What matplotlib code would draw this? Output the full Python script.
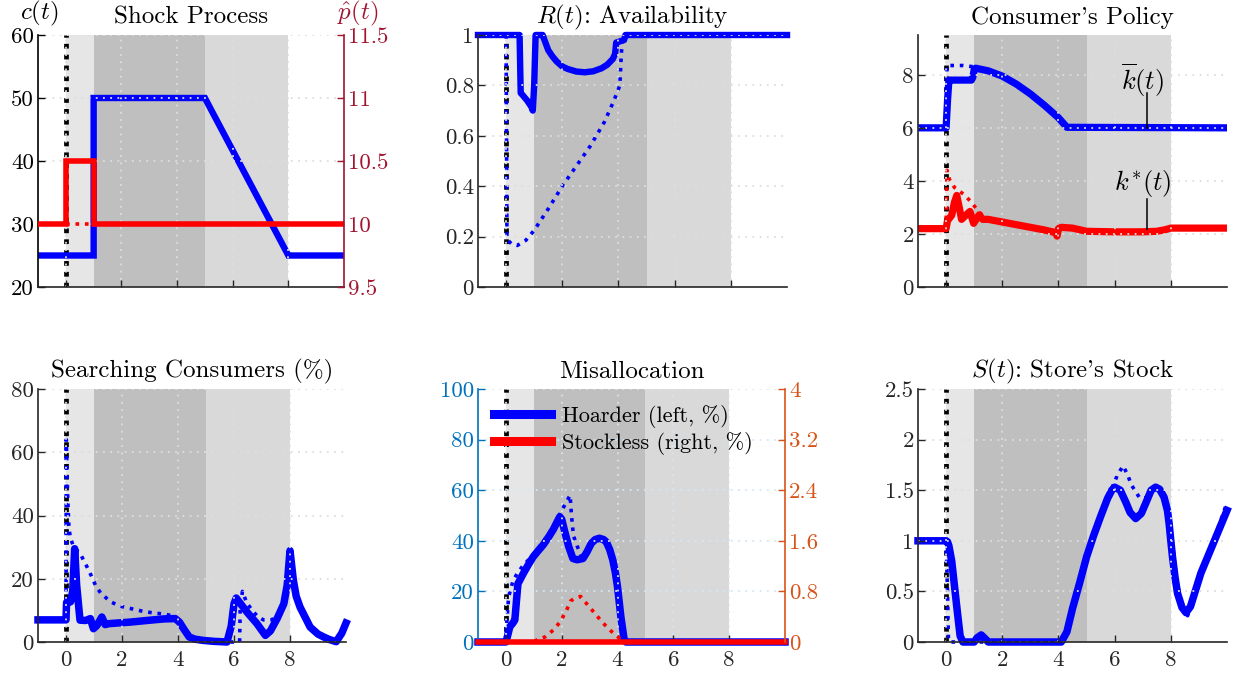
import matplotlib
matplotlib.use('Agg')
import matplotlib.pyplot as plt
from matplotlib.lines import Line2D

plt.rcParams.update({
    'font.family': 'serif', 'font.serif': ['cmr10'], 'mathtext.fontset': 'cm',
    'axes.formatter.use_mathtext': True, 'axes.unicode_minus': False,
})

BLUE = '#0000ff'
RED = '#ff0000'
CRIMSON = '#A2142F'
MBLUE = '#0072BD'
ORANGE = '#D95319'

# ---------------- data ----------------
# Panel 1: shock process
t_c = [-1, 1, 1, 5, 8, 10]
c_val = [25, 25, 50, 50, 25, 25]
t_p = [-1, 0, 0, 1, 1, 10]
p_val = [10, 10, 10.5, 10.5, 10, 10]
t_p_alt = [-1, 10]
p_alt = [10, 10]

# Panel 2: availability
t_R = [-1, 0.48, 0.52, 0.6, 0.75, 0.9, 0.95, 1.0, 1.05, 1.3, 1.4, 1.5, 1.65, 1.8, 2.0,
       2.2, 2.5, 2.8, 3.1, 3.4, 3.6, 3.8, 3.88, 3.92, 4.2, 4.25, 10]
R_val = [1, 1, 0.77, 0.76, 0.74, 0.715, 0.70, 0.80, 1.0, 1.0, 0.97, 0.94, 0.915, 0.895, 0.875,
         0.865, 0.855, 0.852, 0.856, 0.868, 0.882, 0.905, 0.925, 0.97, 0.98, 1.0, 1.0]
t_R_alt = [-1, 0, 0.03, 0.2, 0.4, 0.7, 1.0, 1.5, 2.0, 2.5, 3.0, 3.5, 3.84, 4.05, 4.1, 4.15, 10]
R_alt = [1, 1, 0.19, 0.17, 0.165, 0.185, 0.225, 0.31, 0.40, 0.48, 0.56, 0.655, 0.74, 0.80, 0.92, 1.0, 1.0]

# Panel 3: consumer's policy
t_kbar = [-1, 0.0, 0.05, 0.1, 0.15, 0.9, 0.95, 1.0, 1.05, 1.5, 2.0, 2.5, 3.0, 3.5, 4.0, 4.3, 10]
kbar = [6, 6, 7.0, 7.8, 7.8, 7.8, 7.9, 8.2, 8.25, 8.15, 7.95, 7.65, 7.28, 6.85, 6.38, 6.02, 6.0]
t_kbar_alt = [-1, 0, 0.03, 0.6, 1.0, 1.05, 1.5, 2.0, 2.5, 3.0, 3.5, 4.0, 4.3, 10]
kbar_alt = [6, 6, 8.35, 8.35, 8.3, 8.25, 8.15, 7.95, 7.65, 7.28, 6.85, 6.38, 6.02, 6]
t_kstar = [-1, 0, 0.05, 0.2, 0.3, 0.38, 0.45, 0.55, 0.7, 0.85, 0.98, 1.1, 1.18, 1.3, 1.5, 2.0,
           2.5, 3.0, 3.5, 3.9, 3.95, 4.0, 4.1, 4.5, 5.0, 6.0, 7.0, 7.5, 7.8, 8.0, 10]
kstar = [2.2, 2.2, 2.5, 2.7, 3.2, 3.45, 3.1, 2.55, 2.7, 2.85, 2.4, 2.6, 2.72, 2.55, 2.55, 2.45,
         2.35, 2.25, 2.15, 2.05, 1.92, 2.2, 2.25, 2.22, 2.1, 2.08, 2.08, 2.1, 2.16, 2.22, 2.22]
t_kstar_alt = [-1, 0, 0.03, 0.12, 0.3, 0.62, 0.9, 1.15, 1.4, 1.6, 2.0, 2.5, 3.0, 3.5, 3.9, 4.0,
               4.5, 5.0, 7.5, 8.0, 10]
kstar_alt = [2.2, 2.2, 4.4, 4.05, 3.75, 3.5, 3.2, 2.85, 2.6, 2.55, 2.45, 2.35, 2.25, 2.15, 2.05, 2.2,
             2.22, 2.1, 2.1, 2.22, 2.22]

# Panel 4: searching consumers (%)
t_srch = [-1, 0, 0.02, 0.16, 0.24, 0.31, 0.38, 0.5, 0.7, 0.87, 0.98, 1.1, 1.28, 1.4, 1.52, 2.3,
          3.0, 3.5, 3.9, 4.05, 4.2, 4.4, 4.6, 4.9, 5.3, 5.75, 5.9, 6.0, 6.08, 6.2, 6.46, 6.82,
          7.12, 7.3, 7.54, 7.78, 7.9, 8.0, 8.12, 8.22, 8.36, 8.72, 9.0, 9.2, 9.4, 9.65, 9.85, 10]
srch = [7, 7, 12.5, 12.7, 16, 29.5, 18, 6.9, 6.8, 7.4, 4.2, 5.2, 7.9, 5.5, 5.8, 6.3,
        6.9, 7.3, 7.4, 6.3, 4.2, 1.6, 0.9, 0.5, 0.2, 0, 5, 12.1, 13.9, 12.5, 9.5, 5.8,
        2.1, 3.5, 7.4, 12.1, 18, 28.9, 19.5, 14.5, 11, 4.7, 2.5, 1.6, 0.8, 0.1, 2.8, 6]
t_srch_alt = [-1, 0, 0.01, 0.03, 0.06, 0.1, 0.15, 0.28, 0.54, 0.72, 0.9, 1.05, 1.25, 1.6, 1.9,
              2.3, 2.7, 3.1, 3.55, 3.9, 4.05, 4.2, 4.4, 4.9, 5.75, 6.2, 6.22, 6.3, 6.45, 6.65,
              6.85, 7.05, 7.3, 7.54, 7.78, 7.9, 8.0, 8.12, 8.22, 8.36, 8.72, 9.0, 9.2, 9.4, 9.65,
              9.85, 10]
srch_alt = [7, 7, 64, 55, 46, 37, 33, 30, 27.4, 24.3, 21, 18, 15.3, 12.7, 11.4,
            10.6, 9.8, 9.2, 8.8, 8, 6.5, 4.2, 1.6, 0.5, 0, 0, 10, 16, 12.5, 10,
            8, 7, 7, 7.6, 12.1, 18, 28.9, 19.5, 14.5, 11, 4.7, 2.5, 1.6, 0.8, 0.1,
            2.8, 6]

# Panel 5: misallocation
t_hoard = [-1, 0, 0.05, 0.14, 0.25, 0.32, 0.43, 0.62, 0.8, 0.98, 1.15, 1.33, 1.5, 1.69, 1.93,
           2.0, 2.1, 2.25, 2.4, 2.55, 2.76, 2.9, 3.06, 3.2, 3.35, 3.5, 3.6, 3.72, 3.83, 3.92,
           4.0, 4.12, 4.24, 4.3, 10]
hoard = [0, 0, 2, 6, 7.5, 8.7, 23, 27, 30.5, 33.7, 36, 38.3, 41, 44.3, 49.5,
         48.5, 44, 37.7, 33, 32.5, 33, 35.5, 39, 40.5, 41, 40.5, 39.5, 36.5, 32.4, 27.5,
         21.7, 9.9, 0.7, 0, 0]
t_hoard_alt = [-1, 0, 0.03, 0.1, 0.25, 0.4, 0.6, 0.98, 1.33, 1.69, 1.93, 2.1, 2.3, 2.35, 2.42,
               2.55, 2.7, 2.8, 2.9, 3.06, 3.2, 3.35, 3.5, 3.6, 3.72, 3.83, 3.92, 4.0, 4.12,
               4.24, 4.3, 10]
hoard_alt = [0, 0, 8, 18, 24, 27, 30, 34.5, 39.5, 45.5, 50.5, 54, 58, 50, 42,
             38, 34, 33, 35.5, 39, 40.5, 41, 40.5, 39.5, 36.5, 32.4, 27.5, 21.7, 9.9,
             0.7, 0, 0]
t_stockless = [-1, 10]
stockless = [0, 0]
t_stockless_alt = [-1, 1.0, 1.1, 1.4, 1.73, 1.96, 2.17, 2.32, 2.5, 2.68, 2.94, 3.21, 3.48, 3.75,
                   4.07, 4.25, 10]
stockless_alt = [0, 0, 0.03, 0.08, 0.2, 0.33, 0.5, 0.65, 0.7, 0.72, 0.58, 0.44, 0.3, 0.18,
                 0.06, 0, 0]

# Panel 6: store's stock
t_S = [-1, 0, 0.05, 0.1, 0.2, 0.3, 0.4, 0.5, 0.6, 1.0, 1.1, 1.25, 1.4, 1.5, 4.1, 4.3, 4.5,
       4.75, 5.0, 5.25, 5.5, 5.75, 5.9, 6.0, 6.2, 6.4, 6.55, 6.75, 6.95, 7.15, 7.3, 7.46,
       7.6, 7.76, 7.88, 7.94, 8.0, 8.06, 8.15, 8.24, 8.4, 8.54, 8.7, 9.07, 9.55, 10]
S_val = [1, 1, 0.99, 0.95, 0.8, 0.55, 0.3, 0.06, 0, 0, 0.04, 0.07, 0.03, 0, 0, 0.1, 0.33,
         0.58, 0.84, 1.05, 1.24, 1.42, 1.5, 1.53, 1.5, 1.38, 1.28, 1.22, 1.27, 1.4, 1.5, 1.53,
         1.51, 1.43, 1.30, 1.17, 1.0, 0.84, 0.64, 0.48, 0.34, 0.29, 0.35, 0.68, 1.0, 1.3]
t_S_alt = [-1, 0, 0.05, 0.08, 0.12, 4.1, 4.3, 4.5, 4.75, 5.0, 5.25, 5.5, 5.75, 5.9, 6.1, 6.3,
           6.45, 6.6, 6.9, 7.1, 7.3, 7.46, 7.7, 7.9, 8.05, 8.2, 8.4, 8.6, 9.07, 9.55, 10]
S_alt = [1, 1, 0.5, 0.05, 0, 0, 0.1, 0.33, 0.58, 0.84, 1.05, 1.24, 1.42, 1.52, 1.65, 1.74,
         1.66, 1.55, 1.42, 1.42, 1.5, 1.53, 1.45, 1.3, 1.0, 0.62, 0.35, 0.26, 0.66, 1.02, 1.38]

# shaded phases
phases = [(0, 1, '#e6e6e6'), (1, 5, '#bfbfbf'), (5, 8, '#d9d9d9')]
xticks = [0, 2, 4, 6, 8]

# ---------------- figure ----------------
W, H = 1238, 676
fig = plt.figure(figsize=(W / 100, H / 100), dpi=100)


def rect(x0, x1, yt, yb):
    return [x0 / W, 1 - yb / H, (x1 - x0) / W, (yb - yt) / H]


LW = 4.6
DLW = 2.6
TICK = 16.5
TITLE = 18
DOT = (0, (1, 1.6))


def style(ax, ylim, yticks, bottom, gridcolor='#dedede', ycolor='#262626'):
    ax.set_xlim(-1, 10)
    ax.set_ylim(*ylim)
    for a, b, col in phases:
        ax.axvspan(a, b, color=col, lw=0, zorder=0)
    ax.axvline(0, color='k', ls=(0, (1, 1.3)), lw=3.4, zorder=1.9)
    ax.set_xticks(xticks)
    if bottom:
        ax.set_xticklabels([str(v) for v in xticks])
    else:
        ax.set_xticklabels([])
    ax.set_yticks(yticks)
    ax.set_yticklabels(['%g' % v for v in yticks])
    ax.tick_params(axis='x', direction='in', length=5, width=1, labelsize=TICK,
                   colors='#262626', pad=6)
    ax.tick_params(axis='y', direction='in', length=5, width=1, labelsize=TICK,
                   colors=ycolor, pad=3)
    ax.spines['top'].set_visible(False)
    ax.spines['right'].set_visible(False)
    ax.spines['bottom'].set_color('#262626')
    ax.spines['left'].set_color(ycolor)
    for s in ['left', 'bottom']:
        ax.spines[s].set_linewidth(1.2)
        ax.spines[s].set_zorder(5)
    ax.grid(True, color=gridcolor, ls=(0, (1, 3)), lw=1.3)
    ax.set_axisbelow(False)


# ---- Panel 1 ----
ax1 = fig.add_axes(rect(38, 344, 35, 287))
style(ax1, (20, 60), [20, 30, 40, 50, 60], False, ycolor='k')
ax1.plot(t_c, c_val, color=BLUE, lw=LW, solid_joinstyle='miter', zorder=2)
ax1.plot(t_c, c_val, color=BLUE, lw=DLW, ls=DOT, zorder=2.1)
ax1.set_title('Shock Process', fontsize=TITLE, pad=8)
ax1.annotate('$c(t)$', xy=(0, 1), xycoords='axes fraction', xytext=(1, 11),
             textcoords='offset points', ha='center', va='baseline', fontsize=18)
ax1r = ax1.twinx()
ax1r.set_xlim(-1, 10)
ax1r.set_ylim(9.5, 11.5)
ax1r.set_yticks([9.5, 10, 10.5, 11, 11.5])
ax1r.set_yticklabels(['9.5', '10', '10.5', '11', '11.5'])
ax1r.tick_params(axis='y', direction='in', length=5, width=1, labelsize=TICK,
                 colors=CRIMSON, pad=3)
for s in ['top', 'left', 'bottom']:
    ax1r.spines[s].set_visible(False)
ax1r.spines['right'].set_color(CRIMSON)
ax1r.spines['right'].set_linewidth(1.2)
ax1r.plot(t_p, p_val, color=RED, lw=LW - 0.6, solid_joinstyle='miter', zorder=2)
ax1r.plot(t_p_alt, p_alt, color=RED, lw=DLW, ls=DOT, zorder=2.1)
ax1.annotate('$\\hat{p}(t)$', xy=(1.045, 1), xycoords='axes fraction', xytext=(0, 11),
             textcoords='offset points', ha='center', va='baseline', fontsize=18,
             color=CRIMSON)

# ---- Panel 2 ----
ax2 = fig.add_axes(rect(478, 787, 35, 287))
style(ax2, (0, 1), [0, 0.2, 0.4, 0.6, 0.8, 1], False)
ax2.plot(t_R, R_val, color=BLUE, lw=LW, clip_on=False, zorder=2)
ax2.plot(t_R_alt, R_alt, color=BLUE, lw=DLW, ls=DOT, clip_on=False, zorder=2.1)
ax2.set_title('$R(t)$: Availability', fontsize=TITLE, pad=8)

# ---- Panel 3 ----
ax3 = fig.add_axes(rect(918, 1227, 35, 287))
style(ax3, (0, 9.5), [0, 2, 4, 6, 8], False)
ax3.plot(t_kbar, kbar, color=BLUE, lw=LW + 0.6, zorder=2)
ax3.plot(t_kbar_alt, kbar_alt, color=BLUE, lw=DLW, ls=DOT, zorder=2.1)
ax3.plot(t_kstar, kstar, color=RED, lw=LW + 0.6, zorder=2)
ax3.plot(t_kstar_alt, kstar_alt, color=RED, lw=DLW, ls=DOT, zorder=2.1)
ax3.set_title("Consumer's Policy", fontsize=TITLE, pad=8)
ax3.text(7.0, 7.8, '$\\overline{k}(t)$', fontsize=19, ha='center', va='center', zorder=4)
ax3.plot([7.15, 7.15], [7.3, 6.0], color='k', lw=1.1, zorder=4)
ax3.text(7.0, 3.92, '$k^{*}(t)$', fontsize=19, ha='center', va='center', zorder=4)
ax3.plot([7.15, 7.15], [3.3, 2.2], color='k', lw=1.1, zorder=4)

# ---- Panel 4 ----
ax4 = fig.add_axes(rect(38, 346, 389, 642))
style(ax4, (0, 80), [0, 20, 40, 60, 80], True)
ax4.plot(t_srch, srch, color=BLUE, lw=LW + 0.8, clip_on=False, zorder=2)
ax4.plot(t_srch_alt, srch_alt, color=BLUE, lw=DLW, ls=DOT, clip_on=False, zorder=2.1)
ax4.set_title('Searching Consumers (%)', fontsize=TITLE, pad=8)

# ---- Panel 5 ----
ax5 = fig.add_axes(rect(478, 785, 389, 642))
style(ax5, (0, 100), [0, 20, 40, 60, 80, 100], True, gridcolor='#d6e6f3', ycolor=MBLUE)
ax5.plot(t_hoard, hoard, color=BLUE, lw=LW + 0.8, clip_on=False, zorder=2)
ax5.plot(t_hoard_alt, hoard_alt, color=BLUE, lw=DLW, ls=DOT, clip_on=False, zorder=2.1)
ax5.set_title('Misallocation', fontsize=TITLE, pad=8)
ax5r = ax5.twinx()
ax5r.set_xlim(-1, 10)
ax5r.set_ylim(0, 4)
ax5r.set_yticks([0, 0.8, 1.6, 2.4, 3.2, 4])
ax5r.set_yticklabels(['0', '0.8', '1.6', '2.4', '3.2', '4'])
ax5r.tick_params(axis='y', direction='in', length=5, width=1, labelsize=TICK,
                 colors=ORANGE, pad=3)
for s in ['top', 'left', 'bottom']:
    ax5r.spines[s].set_visible(False)
ax5r.spines['right'].set_color(ORANGE)
ax5r.spines['right'].set_linewidth(1.2)
ax5r.plot(t_stockless, stockless, color=RED, lw=LW - 0.6, clip_on=False, zorder=2)
ax5r.plot(t_stockless_alt, stockless_alt, color=RED, lw=DLW, ls=DOT, clip_on=False, zorder=2.1)
handles = [Line2D([], [], color=BLUE, lw=6.5), Line2D([], [], color=RED, lw=6.5)]
ax5r.legend(handles, ['Hoarder (left, %)', 'Stockless (right, %)'], loc='upper left',
            bbox_to_anchor=(0.0, 1.0), frameon=False, fontsize=16,
            handlelength=2.6, handletextpad=0.5, labelspacing=0.2, borderaxespad=0.3)

# ---- Panel 6 ----
ax6 = fig.add_axes(rect(918, 1227, 389, 642))
style(ax6, (0, 2.5), [0, 0.5, 1, 1.5, 2, 2.5], True)
ax6.plot(t_S, S_val, color=BLUE, lw=LW + 0.8, clip_on=False, zorder=2)
ax6.plot(t_S_alt, S_alt, color=BLUE, lw=DLW, ls=DOT, clip_on=False, zorder=2.1)
ax6.set_title("$S(t)$: Store's Stock", fontsize=TITLE, pad=8)

fig.savefig('out.png', dpi=100)
